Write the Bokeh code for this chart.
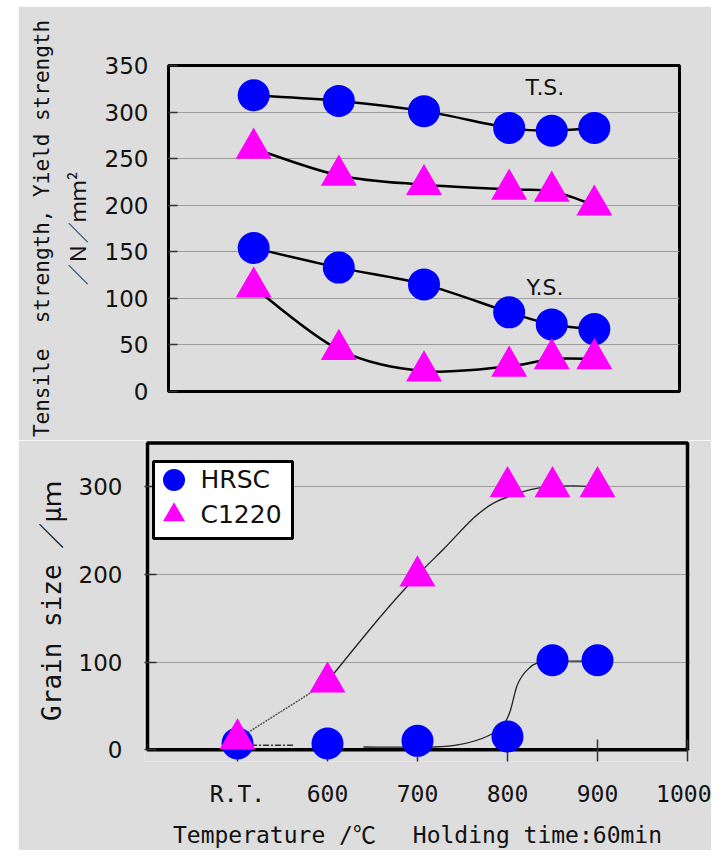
from bokeh.plotting import figure
from bokeh.models import (Range1d, FixedTicker, LinearAxis, Label, Legend, LegendItem,
                          BoxAnnotation, Spacer)
from bokeh.layouts import column, row
from bokeh.embed import file_html
from bokeh.resources import INLINE

# ---------------- data ----------------
temps = [500, 600, 700, 800, 850, 900]          # 500 is the "R.T." position
ts_hrsc = [318, 312, 301, 283, 280, 283]        # tensile strength, HRSC
ts_c1220 = [261, 232, 222, 217, 215, 200]       # tensile strength, C1220
ys_hrsc = [154, 133, 115, 85, 72, 67]           # yield strength, HRSC
ys_c1220 = [112, 45, 22, 27, 35, 35]            # yield strength, C1220
grain_hrsc = [7, 7, 10, 15, 102, 102]           # grain size, HRSC
grain_c1220 = [12, 77, 198, 300, 300, 300]      # grain size, C1220

# hand drawn trend curves of the grain size
hrsc_trend_x = [640, 718, 748, 777, 795, 803, 811, 822, 837, 870, 900]
hrsc_trend_y = [3, 3, 6, 15, 28, 44, 74, 91, 100, 101, 101]
hrsc_stub_x = [515, 562]
hrsc_stub_y = [5, 5]
c1220_trend_x = [600, 659, 700, 731, 762, 784, 810, 837, 870, 900]
c1220_trend_y = [78, 152, 199, 231, 264, 281, 292, 299, 301, 300]

x_ticks = [500, 600, 700, 800, 900, 1000]
x_tick_labels = ["R.T.", "600", "700", "800", "900", "1000"]
strength_ticks = [0, 50, 100, 150, 200, 250, 300, 350]
grain_ticks = [0, 100, 200, 300]

series_names = ["HRSC", "C1220"]

# ---------------- styles ----------------
BG = "#dddddd"
TXT = "#111111"
BLUE = "#0000ff"
MAGENTA = "#ff00ff"
MONO = "DejaVu Sans Mono, Noto Sans CJK JP"
SANS = "DejaVu Sans"
GRID = "#9c9c9c"


def smooth(xs, ys):
    """Bezier segments (Catmull-Rom) through the given points."""
    px = [xs[0]] + list(xs) + [xs[-1]]
    py = [ys[0]] + list(ys) + [ys[-1]]
    d = dict(x0=[], y0=[], x1=[], y1=[], cx0=[], cy0=[], cx1=[], cy1=[])
    for i in range(1, len(px) - 2):
        d["x0"].append(px[i]); d["y0"].append(py[i])
        d["x1"].append(px[i + 1]); d["y1"].append(py[i + 1])
        d["cx0"].append(px[i] + (px[i + 1] - px[i - 1]) / 6)
        d["cy0"].append(py[i] + (py[i + 1] - py[i - 1]) / 6)
        d["cx1"].append(px[i + 1] - (px[i + 2] - px[i]) / 6)
        d["cy1"].append(py[i + 1] - (py[i + 2] - py[i]) / 6)
    return d


def style_ticks(ax):
    ax.axis_line_color = None
    ax.major_tick_out = 0
    ax.major_tick_line_color = "#333333"
    ax.major_tick_line_width = 1.5
    ax.minor_tick_line_color = None
    ax.major_label_text_color = TXT
    ax.major_label_text_font_size = "23px"
    ax.axis_label_text_font_style = "normal"
    ax.axis_label_text_color = TXT


# ---------------- top panel: strengths ----------------
p1 = figure(width=693, height=434,
            min_border_left=150, min_border_right=32,
            min_border_top=59, min_border_bottom=49,
            x_range=Range1d(400, 1000), y_range=Range1d(0, 350),
            output_backend="svg", toolbar_location=None,
            background_fill_color=BG, border_fill_color=BG)
p1.xaxis.visible = False
p1.xgrid.visible = False
p1.outline_line_color = "black"
p1.outline_line_width = 3
p1.outline_line_alpha = 1

ya = p1.yaxis[0]
style_ticks(ya)
ya.ticker = FixedTicker(ticks=strength_ticks)
ya.major_tick_in = 9
ya.major_label_standoff = 20
ya.major_label_text_font = SANS
ya.axis_label = "／Ｎ／ｍｍ²"
ya.axis_label_text_font = "Noto Sans CJK JP"
ya.axis_label_text_font_size = "21px"
ya.axis_label_standoff = 10

p1.ygrid.grid_line_color = GRID
p1.ygrid.grid_line_width = 1.2

outer = LinearAxis(ticker=FixedTicker(ticks=[]), axis_line_color=None,
                   major_tick_line_color=None, minor_tick_line_color=None,
                   major_label_text_color=None, major_label_standoff=0,
                   axis_label="Tensile\u00a0 strength, Yield strength",
                   axis_label_text_font=MONO, axis_label_text_font_size="21px",
                   axis_label_text_font_style="normal", axis_label_text_color=TXT,
                   axis_label_standoff=5)
p1.add_layout(outer, "left")

for ys in (ts_hrsc, ts_c1220, ys_hrsc, ys_c1220):
    p1.bezier(**smooth(temps, ys), line_color="black", line_width=2.5)
for ys in (ts_hrsc, ys_hrsc):
    p1.scatter(temps, ys, marker="circle", size=32, fill_color=BLUE, line_color=None)
for ys in (ts_c1220, ys_c1220):
    p1.scatter(temps, ys, marker="triangle", size=36, fill_color=MAGENTA, line_color=None)

p1.add_layout(Label(x=842, y=326, text="T.S.", text_font=SANS, text_font_size="22px",
                    text_align="center", text_baseline="middle", text_color=TXT))
p1.add_layout(Label(x=842, y=112, text="Y.S.", text_font=SANS, text_font_size="22px",
                    text_align="center", text_baseline="middle", text_color=TXT))

# ---------------- bottom panel: grain size ----------------
# the frame is a little larger than the drawn box so that markers may spill below it
p2 = figure(width=693, height=410,
            min_border_left=126, min_border_right=21,
            min_border_top=0, min_border_bottom=85,
            x_range=Range1d(396.67, 1003.33), y_range=Range1d(-13.54, 352.82),
            output_backend="svg", toolbar_location=None,
            background_fill_color=BG, border_fill_color=BG)
p2.outline_line_color = None
p2.xgrid.visible = False
p2.ygrid.grid_line_color = GRID
p2.ygrid.grid_line_width = 1.2

xa = p2.xaxis[0]
style_ticks(xa)
xa.ticker = FixedTicker(ticks=x_ticks)
xa.major_label_overrides = {t: s for t, s in zip(x_ticks, x_tick_labels)}
xa.major_tick_in = 22
xa.major_label_standoff = 19
xa.major_label_text_font = MONO
xa.axis_label = "Temperature /℃　 Holding time:60min"
xa.axis_label_text_font = MONO
xa.axis_label_text_font_size = "23px"
xa.axis_label_standoff = 12

yb = p2.yaxis[0]
style_ticks(yb)
yb.ticker = FixedTicker(ticks=grain_ticks)
yb.major_tick_in = 12
yb.major_label_standoff = 22
yb.major_label_text_font = SANS
yb.axis_label = "Grain size ／μｍ"
yb.axis_label_text_font = MONO
yb.axis_label_text_font_size = "26px"
yb.axis_label_standoff = 9

frame_box = BoxAnnotation(left=400, right=1000, bottom=0, top=350,
                          fill_color=None, fill_alpha=0,
                          line_color="black", line_alpha=1, line_width=3.5,
                          level="underlay")
p2.add_layout(frame_box)

p2.line(hrsc_stub_x, hrsc_stub_y, line_color="#333333", line_width=1.5,
        line_dash="6 2 2 2")
p2.bezier(**smooth(hrsc_trend_x, hrsc_trend_y), line_color="#222222", line_width=1.3)
p2.line(temps[:2], grain_c1220[:2], line_color="#555555", line_width=1.5, line_dash="2 1")
p2.bezier(**smooth(c1220_trend_x, c1220_trend_y), line_color="#222222", line_width=1.3)

r_c = p2.scatter(temps, grain_hrsc, marker="circle", size=32, fill_color=BLUE,
                 line_color=None, level="overlay")
r_t = p2.scatter(temps, grain_c1220, marker="triangle", size=36, fill_color=MAGENTA,
                 line_color=None, level="overlay")

legend_box = BoxAnnotation(left=135, right=274, top=21, bottom=98,
                           left_units="canvas", right_units="canvas",
                           top_units="canvas", bottom_units="canvas",
                           fill_color="white", fill_alpha=1,
                           line_color="black", line_alpha=1, line_width=3)
p2.add_layout(legend_box)

for name, rend, vy in ((series_names[0], r_c, 254.5), (series_names[1], r_t, 219.5)):
    lg = Legend(items=[LegendItem(label=name, renderers=[rend])],
                location=(1.5, vy), margin=0, padding=0, spacing=0,
                glyph_width=55, glyph_height=55, label_standoff=0,
                label_text_font=SANS, label_text_font_size="25px",
                label_text_color=TXT, background_fill_alpha=0,
                border_line_color=None)
    p2.add_layout(lg)

layout = column(Spacer(height=6),
                row(Spacer(width=18), p1),
                row(Spacer(width=18), p2))
open("out.html", "w").write(file_html(layout, INLINE))
